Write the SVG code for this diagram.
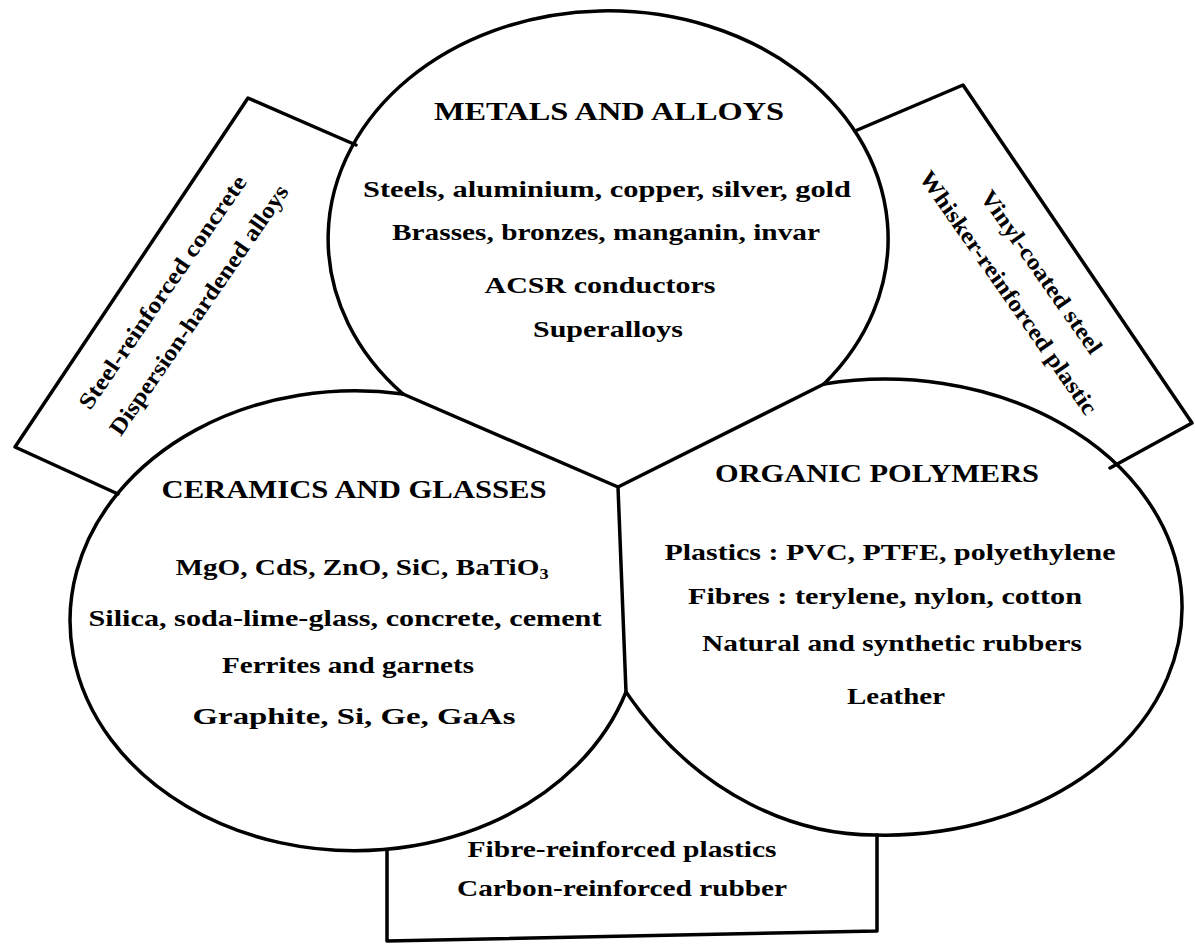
<svg xmlns="http://www.w3.org/2000/svg" width="1195" height="946" viewBox="0 0 1195 946">
<style>
.ln{fill:none;stroke:#000;stroke-width:3.5;stroke-linejoin:round;stroke-linecap:round}
.t{font-family:"Liberation Serif","Times New Roman",serif;font-weight:bold;fill:#000;text-anchor:middle}
.h{font-size:25px}
.i{font-size:24px}
.r{font-size:23px}
</style>
<rect width="1195" height="946" fill="#fff"/>
<g id="metals">
<path class="ln" d="M403,394 A280,228 0 1 1 824,384"/>
<text class="t h" x="609" y="120" textLength="350" lengthAdjust="spacingAndGlyphs">METALS AND ALLOYS</text>
<text class="t i" x="607" y="197" textLength="488" lengthAdjust="spacingAndGlyphs">Steels, aluminium, copper, silver, gold</text>
<text class="t i" x="606" y="240" textLength="428" lengthAdjust="spacingAndGlyphs">Brasses, bronzes, manganin, invar</text>
<text class="t i" x="600" y="293" textLength="231" lengthAdjust="spacingAndGlyphs">ACSR conductors</text>
<text class="t i" x="608" y="337" textLength="150" lengthAdjust="spacingAndGlyphs">Superalloys</text>
</g>
<g id="ceramics">
<path class="ln" d="M403,394 A285,230 0 1 0 626,692"/>
<text class="t h" x="354" y="498" textLength="385" lengthAdjust="spacingAndGlyphs">CERAMICS AND GLASSES</text>
<text class="t i" x="362" y="575" textLength="373" lengthAdjust="spacingAndGlyphs">MgO, CdS, ZnO, SiC, BaTiO<tspan dy="4" font-size="15">3</tspan></text>
<text class="t i" x="345" y="626" textLength="513" lengthAdjust="spacingAndGlyphs">Silica, soda-lime-glass, concrete, cement</text>
<text class="t i" x="348" y="673" textLength="252" lengthAdjust="spacingAndGlyphs">Ferrites and garnets</text>
<text class="t i" x="354" y="724" textLength="323" lengthAdjust="spacingAndGlyphs">Graphite, Si, Ge, GaAs</text>
</g>
<g id="organic">
<path class="ln" d="M824,384 A297,228 0 1 1 875,835 C800,835 700,800 626,692"/>
<text class="t h" x="877" y="482" textLength="324" lengthAdjust="spacingAndGlyphs">ORGANIC POLYMERS</text>
<text class="t i" x="890" y="560" textLength="451" lengthAdjust="spacingAndGlyphs">Plastics : PVC, PTFE, polyethylene</text>
<text class="t i" x="885" y="604" textLength="394" lengthAdjust="spacingAndGlyphs">Fibres : terylene, nylon, cotton</text>
<text class="t i" x="892" y="651" textLength="380" lengthAdjust="spacingAndGlyphs">Natural and synthetic rubbers</text>
<text class="t i" x="896" y="704" textLength="98" lengthAdjust="spacingAndGlyphs">Leather</text>
</g>
<g id="shared-boundaries">
<path class="ln" d="M403,394 L618,487 L824,384 M618,487 L626,692"/>
</g>
<g id="box-left">
<path class="ln" d="M356,145 L248,98 L15,447 L118,494"/>
<g transform="translate(182,302) rotate(-55.5)">
<text class="t r" x="-3" y="-14" textLength="278" lengthAdjust="spacingAndGlyphs">Steel-reinforced concrete</text>
<text class="t r" x="3" y="26" textLength="298" lengthAdjust="spacingAndGlyphs">Dispersion-hardened alloys</text>
</g>
</g>
<g id="box-right">
<path class="ln" d="M855,131 L963,85 L1192,423 L1110,468"/>
<g transform="translate(1024,283) rotate(55)">
<text class="t r" x="1" y="-13" textLength="194" lengthAdjust="spacingAndGlyphs">Vinyl-coated steel</text>
<text class="t r" x="-1" y="26" textLength="292" lengthAdjust="spacingAndGlyphs">Whisker-reinforced plastic</text>
</g>
</g>
<g id="box-bottom">
<path class="ln" d="M387,850 L387,941 L877,931 L877,835"/>
<text class="t i" x="622" y="857" textLength="309" lengthAdjust="spacingAndGlyphs">Fibre-reinforced plastics</text>
<text class="t i" x="622" y="896" textLength="330" lengthAdjust="spacingAndGlyphs">Carbon-reinforced rubber</text>
</g>
</svg>
